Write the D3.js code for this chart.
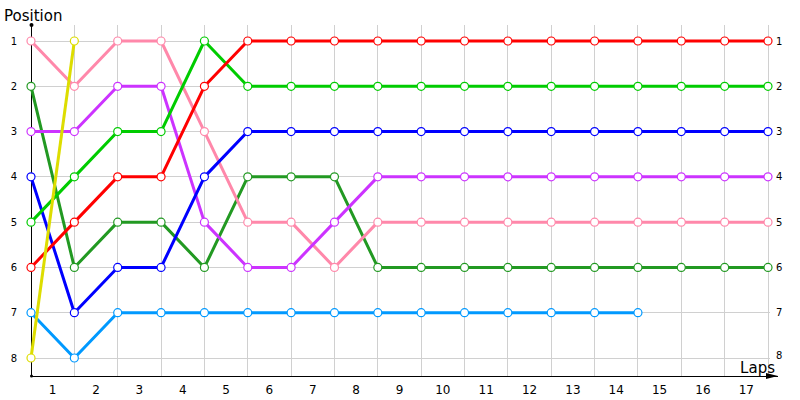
<!DOCTYPE html>
<html><head><meta charset="utf-8">
<script src="https://cdn.jsdelivr.net/npm/d3@7"></script>
<style>body{margin:0;background:#fff;} svg{display:block;}</style>
</head><body>
<svg id="c" width="800" height="400"></svg>
<script>
const lapLabels = [1,2,3,4,5,6,7,8,9,10,11,12,13,14,15,16,17];
const positions = [1,2,3,4,5,6,7,8];
const red       = [6,5,4,4,2,1,1,1,1,1,1,1,1,1,1,1,1,1];
const green     = [5,4,3,3,1,2,2,2,2,2,2,2,2,2,2,2,2,2];
const blue      = [4,7,6,6,4,3,3,3,3,3,3,3,3,3,3,3,3,3];
const magenta   = [3,3,2,2,5,6,6,5,4,4,4,4,4,4,4,4,4,4];
const pink      = [1,2,1,1,3,5,5,6,5,5,5,5,5,5,5,5,5,5];
const darkGreen = [2,6,5,5,6,4,4,4,6,6,6,6,6,6,6,6,6,6];
const lightBlue = [7,8,7,7,7,7,7,7,7,7,7,7,7,7,7];
const yellow    = [8,1];

const series = [
  {vals: lightBlue, color: "#0099ff"},
  {vals: darkGreen, color: "#229922"},
  {vals: pink, color: "#ff88aa"},
  {vals: magenta, color: "#cc33ff"},
  {vals: blue, color: "#0000ff"},
  {vals: green, color: "#00cc00"},
  {vals: red, color: "#ff0000"},
  {vals: yellow, color: "#dddd00"}
];

const svg = d3.select("#c");
const x = d3.scaleLinear().domain([0,17]).range([31,768]);
const y = d3.scaleLinear().domain([1,8]).range([41,358]);
const font = "Tahoma, 'DejaVu Sans', Verdana, sans-serif";

// grid
const g = svg.append("g");
g.selectAll("line.v").data(d3.range(1,18)).enter().append("line")
  .attr("x1", d=>x(d)).attr("x2", d=>x(d)).attr("y1", 25).attr("y2", 376)
  .attr("stroke", "#d0d0d0").attr("stroke-width", 1).attr("shape-rendering","crispEdges");
g.selectAll("line.h").data(positions).enter().append("line")
  .attr("x1", 31).attr("x2", 770).attr("y1", d=>y(d)).attr("y2", d=>y(d))
  .attr("stroke", "#d0d0d0").attr("stroke-width", 1).attr("shape-rendering","crispEdges");

// axes
svg.append("line").attr("x1",31).attr("x2",31).attr("y1",25).attr("y2",376)
  .attr("stroke","#000").attr("stroke-width",1).attr("shape-rendering","crispEdges");
svg.append("circle").attr("cx",31.5).attr("cy",25).attr("r",2).attr("fill","#000");
svg.append("circle").attr("cx",31.5).attr("cy",376).attr("r",1.5).attr("fill","#000");
svg.append("line").attr("x1",31).attr("x2",778).attr("y1",376).attr("y2",376)
  .attr("stroke","#000").attr("stroke-width",1).attr("shape-rendering","crispEdges");
svg.append("path").attr("d","M766,373 L778,376 L766,379 Z").attr("fill","#000");

// tick labels
svg.append("g").selectAll("text").data(positions).enter().append("text")
  .attr("x", 14).attr("y", d=>y(d)).attr("dy","0.35em").attr("text-anchor","middle")
  .attr("font-family",font).attr("font-size",10).text(d=>d);
svg.append("g").selectAll("text").data(positions).enter().append("text")
  .attr("x", 776).attr("y", d=>y(d) - (d===8?3:0)).attr("dy","0.35em").attr("text-anchor","start")
  .attr("font-family",font).attr("font-size",10).text(d=>d);
svg.append("g").selectAll("text").data(lapLabels).enter().append("text")
  .attr("x", d=>x(d-0.5)).attr("y", 390).attr("dy","0.35em").attr("text-anchor","middle")
  .attr("font-family",font).attr("font-size",12).text(d=>d);

svg.append("text").attr("x",4).attr("y",21).attr("font-family",font).attr("font-size",15).text("Position");
svg.append("text").attr("x",775).attr("y",373).attr("text-anchor","end").attr("font-family",font).attr("font-size",15).text("Laps");

// series
const line = d3.line().x((d,i)=>x(i)).y(d=>y(d));
series.forEach(s=>{
  svg.append("path").attr("d", line(s.vals)).attr("fill","none")
    .attr("stroke", s.color).attr("stroke-width",3).attr("stroke-linejoin","round");
});
series.forEach(s=>{
  svg.append("g").selectAll("circle").data(s.vals).enter().append("circle")
    .attr("cx",(d,i)=>x(i)).attr("cy",d=>y(d)).attr("r",4)
    .attr("fill","#fff").attr("stroke",s.color).attr("stroke-width",1.2);
});
</script>
</body></html>
